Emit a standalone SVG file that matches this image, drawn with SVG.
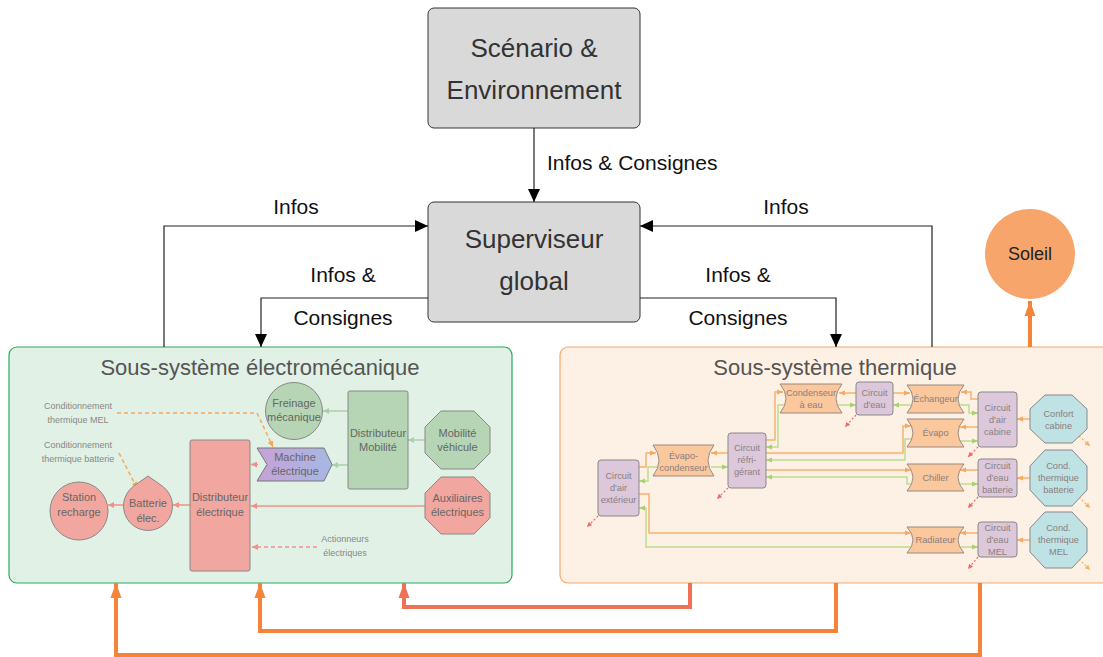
<svg xmlns="http://www.w3.org/2000/svg" width="1103" height="657" viewBox="0 0 1103 657">
<defs>
<style>
text{font-family:"Liberation Sans",Arial,sans-serif;text-anchor:middle}
.top{fill:#d9d9d9;stroke:#333;stroke-width:1}
.tt{font-size:26px;fill:#333}
.lbl{font-size:21px;fill:#111}
.ctl{fill:none;stroke:#222;stroke-width:1.2}
.title{font-size:22px;fill:#555}
.en{font-size:11px;fill:#666}
.tn{font-size:9.2px;fill:#8a7f80}
.note{font-size:9px;fill:#888}
.pink{fill:#f1a7a0;stroke:#888;stroke-width:1}
.grn{fill:#b5d5b5;stroke:#888;stroke-width:1}
.circ{fill:#dcc8da;stroke:#888;stroke-width:1}
.hx{fill:#fbc79c;stroke:#9a8a80;stroke-width:1}
.teal{fill:#bfe2e4;stroke:#888;stroke-width:1}
.pl{fill:none;stroke:#f0908a;stroke-width:1.5}
.gl{fill:none;stroke:#a9d1a9;stroke-width:1.5}
.ol{fill:none;stroke:#f8b26e;stroke-width:1.5}
.ll{fill:none;stroke:#bedc8f;stroke-width:1.5}
.od{fill:none;stroke:#f5a85a;stroke-width:1.5;stroke-dasharray:4 3}
.pd{fill:none;stroke:#f0908a;stroke-width:1.5;stroke-dasharray:4 3}
.rd{fill:none;stroke:#f06a6a;stroke-width:1.2;stroke-dasharray:2 2}
.odt{fill:none;stroke:#f7b060;stroke-width:1.2;stroke-dasharray:2 2}
.big{fill:none;stroke:#f5843a;stroke-width:4}
.bigr{fill:none;stroke:#ef7055;stroke-width:4}
</style>
<linearGradient id="gMach" x1="0" y1="0" x2="1" y2="0">
<stop offset="0" stop-color="#c6a2d6"/><stop offset="1" stop-color="#a6b8e4"/>
</linearGradient>
<marker id="aBlk" markerUnits="userSpaceOnUse" markerWidth="13" markerHeight="12" refX="13" refY="6" orient="auto"><path d="M0,0 L13,6 L0,12 z" fill="#000"/></marker>
<marker id="aBig" markerUnits="userSpaceOnUse" markerWidth="15" markerHeight="12" refX="15" refY="6" orient="auto"><path d="M0,0.5 L15,6 L0,11.5 z" fill="#f5843a"/></marker>
<marker id="aBigR" markerUnits="userSpaceOnUse" markerWidth="15" markerHeight="12" refX="15" refY="6" orient="auto"><path d="M0,0.5 L15,6 L0,11.5 z" fill="#ef7055"/></marker>
<marker id="aP" markerUnits="userSpaceOnUse" markerWidth="6" markerHeight="6" refX="6" refY="3" orient="auto"><path d="M0,0 L6,3 L0,6 z" fill="#f0908a"/></marker>
<marker id="aG" markerUnits="userSpaceOnUse" markerWidth="6" markerHeight="6" refX="6" refY="3" orient="auto"><path d="M0,0 L6,3 L0,6 z" fill="#a9d1a9"/></marker>
<marker id="aO" markerUnits="userSpaceOnUse" markerWidth="6" markerHeight="6" refX="6" refY="3" orient="auto"><path d="M0,0.5 L6,3 L0,5.5 z" fill="#f8a860"/></marker>
<marker id="aL" markerUnits="userSpaceOnUse" markerWidth="6" markerHeight="6" refX="6" refY="3" orient="auto"><path d="M0,0.5 L6,3 L0,5.5 z" fill="#a8d070"/></marker>
<marker id="aOD" markerUnits="userSpaceOnUse" markerWidth="6" markerHeight="6" refX="6" refY="3" orient="auto"><path d="M0,0 L6,3 L0,6 z" fill="#f5a85a"/></marker>
<marker id="aR" markerUnits="userSpaceOnUse" markerWidth="5" markerHeight="5" refX="5" refY="2.5" orient="auto"><path d="M0,0 L5,2.5 L0,5 z" fill="#f06a6a"/></marker>
<marker id="aODt" markerUnits="userSpaceOnUse" markerWidth="5" markerHeight="5" refX="5" refY="2.5" orient="auto"><path d="M0,0 L5,2.5 L0,5 z" fill="#f7b060"/></marker>
</defs>

<!-- subsystem containers -->
<g id="sub-electromeca">
<rect x="9" y="347" width="503" height="236" rx="8" fill="#e1f1e6" stroke="#2aaa60" stroke-width="1.2"/>
<text class="title" x="260" y="375">Sous-système électromécanique</text>
</g>
<g id="sub-thermique">
<rect x="560" y="347" width="560" height="236" rx="8" fill="#fdf0e4" stroke="#f6a86b" stroke-width="1.2"/>
<text class="title" x="835" y="375">Sous-système thermique</text>
</g>

<!-- top nodes -->
<g id="scenario">
<rect class="top" x="428" y="8" width="212" height="120" rx="6"/>
<text class="tt" x="534" y="57">Scénario &amp;</text>
<text class="tt" x="534" y="99">Environnement</text>
</g>
<g id="superviseur">
<rect class="top" x="428" y="202" width="212" height="120" rx="6"/>
<text class="tt" x="534" y="248">Superviseur</text>
<text class="tt" x="534" y="290">global</text>
</g>
<g id="soleil">
<circle cx="1030" cy="254" r="45" fill="#f8a56c"/>
<text x="1030" y="260" font-size="18" fill="#222">Soleil</text>
</g>

<!-- connectors -->
<g id="connectors">
<path class="ctl" d="M534,128 V202" marker-end="url(#aBlk)"/>
<path class="ctl" d="M164,347 V226 H428" marker-end="url(#aBlk)"/>
<path class="ctl" d="M428,298 H261 V347" marker-end="url(#aBlk)"/>
<path class="ctl" d="M932,347 V226 H640" marker-end="url(#aBlk)"/>
<path class="ctl" d="M640,298 H836 V347" marker-end="url(#aBlk)"/>
<text class="lbl" x="547" y="170" style="text-anchor:start">Infos &amp; Consignes</text>
<text class="lbl" x="296" y="214">Infos</text>
<text class="lbl" x="343" y="282">Infos &amp;</text>
<text class="lbl" x="343" y="325">Consignes</text>
<text class="lbl" x="786" y="214">Infos</text>
<text class="lbl" x="738" y="282">Infos &amp;</text>
<text class="lbl" x="738" y="325">Consignes</text>

<path class="big" d="M1030,347 V301" marker-end="url(#aBig)"/>
<path class="bigr" d="M690,583 V607 H404 V583" marker-end="url(#aBigR)"/>
<path class="big" d="M836,583 V631 H260 V583" marker-end="url(#aBig)"/>
<path class="big" d="M980,583 V655 H116 V583" marker-end="url(#aBig)"/>

<!-- electromechanical flows -->
<path class="pl" d="M124,505 H108" marker-end="url(#aP)"/>
<path class="pl" d="M190,505 H173" marker-end="url(#aP)"/>
<path class="pl" d="M258,464.5 H251" marker-end="url(#aP)"/>
<path class="pl" d="M425,506 H251" marker-end="url(#aP)"/>
<path class="pd" d="M317,547 H252" marker-end="url(#aP)"/>
<path class="gl" d="M348,411 H323" marker-end="url(#aG)"/>
<path class="gl" d="M348,465 H332" marker-end="url(#aG)"/>
<path class="gl" d="M425,440 H408" marker-end="url(#aG)"/>
<path class="od" d="M117,413 H257 L273,447" marker-end="url(#aOD)"/>
<path class="od" d="M119,453 L137,488" marker-end="url(#aOD)"/>
<text class="note" x="78" y="409">Conditionnement</text>
<text class="note" x="78" y="423">thermique MEL</text>
<text class="note" x="78" y="448">Conditionnement</text>
<text class="note" x="78" y="462">thermique batterie</text>
<text class="note" x="345" y="542">Actionneurs</text>
<text class="note" x="345" y="556">électriques</text>

<!-- thermal flows -->
<path class="ol" d="M639,467 H646 V453 H656" marker-end="url(#aO)"/>
<path class="ll" d="M657,467 H648 V481 H639" marker-end="url(#aL)"/>
<path class="ol" d="M728,453 H711" marker-end="url(#aO)"/>
<path class="ll" d="M711,467 H728" marker-end="url(#aL)"/>
<path class="ol" d="M766,440 H775 V392 H783" marker-end="url(#aO)"/>
<path class="ll" d="M785,405 H778 V447 H766" marker-end="url(#aL)"/>
<path class="ol" d="M856,393 H839" marker-end="url(#aO)"/>
<path class="ll" d="M838,405 H856" marker-end="url(#aL)"/>
<path class="ol" d="M893,393 H910" marker-end="url(#aO)"/>
<path class="ll" d="M911,405 H893" marker-end="url(#aL)"/>
<path class="ol" d="M978,399 H971 V392 H961" marker-end="url(#aO)"/>
<path class="ll" d="M960,405 H969 V413 H978" marker-end="url(#aL)"/>
<path class="ol" d="M978,427 H960" marker-end="url(#aO)"/>
<path class="ll" d="M960,441 H978" marker-end="url(#aL)"/>
<path class="ol" d="M766,453 H903 V426 H911" marker-end="url(#aO)"/>
<path class="ll" d="M912,439 H905 V460 H766" marker-end="url(#aL)"/>
<path class="ol" d="M766,470 H911" marker-end="url(#aO)"/>
<path class="ll" d="M912,484 H907 V477 H766" marker-end="url(#aL)"/>
<path class="ol" d="M978,470 H960" marker-end="url(#aO)"/>
<path class="ll" d="M960,484 H978" marker-end="url(#aL)"/>
<path class="ol" d="M639,494 H649 V533 H911" marker-end="url(#aO)"/>
<path class="ll" d="M912,547 H646 V508 H639" marker-end="url(#aL)"/>
<path class="ol" d="M978,533 H960" marker-end="url(#aO)"/>
<path class="ll" d="M960,547 H978" marker-end="url(#aL)"/>
<path class="ol" d="M1030,419 H1017" marker-end="url(#aO)"/>
<path class="ol" d="M1030,478 H1017" marker-end="url(#aO)"/>
<path class="ol" d="M1030,540 H1017" marker-end="url(#aO)"/>
<path class="rd" d="M598,516 L587,527" marker-end="url(#aR)"/>
<path class="rd" d="M728,488 L717,499" marker-end="url(#aR)"/>
<path class="rd" d="M856,415 L845,427" marker-end="url(#aR)"/>
<path class="rd" d="M978,447 L968,457" marker-end="url(#aR)"/>
<path class="rd" d="M978,497 L968,508" marker-end="url(#aR)"/>
<path class="rd" d="M978,557 L968,569" marker-end="url(#aR)"/>
<path class="odt" d="M1079,436 L1090,446" marker-end="url(#aODt)"/>
<path class="odt" d="M1079,497 L1090,508" marker-end="url(#aODt)"/>
<path class="odt" d="M1079,559 L1090,570" marker-end="url(#aODt)"/>
</g>

<!-- electromechanical nodes -->
<g id="station-recharge">
<circle class="pink" cx="79" cy="511" r="29"/>
<text class="en" x="79" y="501">Station</text>
<text class="en" x="79" y="516">recharge</text>
</g>
<g id="batterie">
<path class="pink" d="M148,476 L162.2,486 A24.5,24.5 0 1 1 133.8,486 Z"/>
<text class="en" x="148" y="507">Batterie</text>
<text class="en" x="148" y="522">élec.</text>
</g>
<g id="distributeur-electrique">
<rect class="pink" x="190" y="440" width="60" height="131" rx="2"/>
<text class="en" x="220" y="501">Distributeur</text>
<text class="en" x="220" y="516">électrique</text>
</g>
<g id="machine-electrique">
<polygon points="257,448 324,448 332,464.5 324,481 257,481 267,464.5" fill="url(#gMach)" stroke="#777" stroke-width="1"/>
<text class="en" x="295" y="461">Machine</text>
<text class="en" x="295" y="475">électrique</text>
</g>
<g id="freinage">
<circle class="grn" cx="294" cy="411" r="28.5"/>
<text class="en" x="294" y="407">Freinage</text>
<text class="en" x="294" y="421">mécanique</text>
</g>
<g id="distributeur-mobilite">
<rect class="grn" x="348" y="391" width="60" height="98" rx="2"/>
<text class="en" x="378" y="437">Distributeur</text>
<text class="en" x="378" y="451">Mobilité</text>
</g>
<g id="mobilite-vehicule">
<polygon class="grn" points="441,411 474,411 490,427 490,453 474,469 441,469 425,453 425,427"/>
<text class="en" x="457.5" y="437">Mobilité</text>
<text class="en" x="457.5" y="451">véhicule</text>
</g>
<g id="auxiliaires">
<polygon class="pink" points="441,477 474,477 490,493 490,518 474,534 441,534 425,518 425,493"/>
<text class="en" x="457.5" y="502">Auxiliaires</text>
<text class="en" x="457.5" y="516">électriques</text>
</g>

<!-- thermal nodes -->
<g id="circuit-air-ext">
<rect class="circ" x="598" y="460" width="41" height="56" rx="3"/>
<text class="tn" x="618.5" y="479">Circuit</text>
<text class="tn" x="618.5" y="491">d'air</text>
<text class="tn" x="618.5" y="503">extérieur</text>
</g>
<g id="evapo-condenseur">
<path class="hx" d="M653,445 H714 Q702,460.5 714,476 H653 Q665,460.5 653,445 Z"/>
<text class="tn" x="683.5" y="459">Évapo-</text>
<text class="tn" x="683.5" y="471">condenseur</text>
</g>
<g id="circuit-refrigerant">
<rect class="circ" x="728" y="433" width="38" height="55" rx="3"/>
<text class="tn" x="747" y="451">Circuit</text>
<text class="tn" x="747" y="463">réfri-</text>
<text class="tn" x="747" y="475">gérant</text>
</g>
<g id="condenseur-eau">
<path class="hx" d="M780,384 H842 Q830,398.5 842,413 H780 Q792,398.5 780,384 Z"/>
<text class="tn" x="811" y="396">Condenseur</text>
<text class="tn" x="811" y="408">à eau</text>
</g>
<g id="circuit-eau">
<rect class="circ" x="856" y="382" width="37" height="33" rx="3"/>
<text class="tn" x="874.5" y="396">Circuit</text>
<text class="tn" x="874.5" y="408">d'eau</text>
</g>
<g id="echangeur">
<path class="hx" d="M907,385 H964 Q952,399 964,413 H907 Q919,399 907,385 Z"/>
<text class="tn" x="935.5" y="402">Échangeur</text>
</g>
<g id="evapo">
<path class="hx" d="M907,419 H964 Q952,433 964,447 H907 Q919,433 907,419 Z"/>
<text class="tn" x="935.5" y="436">Évapo</text>
</g>
<g id="chiller">
<path class="hx" d="M907,464 H964 Q952,477.5 964,491 H907 Q919,477.5 907,464 Z"/>
<text class="tn" x="935.5" y="481">Chiller</text>
</g>
<g id="radiateur">
<path class="hx" d="M907,527 H964 Q952,540 964,553 H907 Q919,540 907,527 Z"/>
<text class="tn" x="935.5" y="543">Radiateur</text>
</g>
<g id="circuit-air-cabine">
<rect class="circ" x="978" y="392" width="39" height="55" rx="3"/>
<text class="tn" x="997.5" y="411">Circuit</text>
<text class="tn" x="997.5" y="423">d'air</text>
<text class="tn" x="997.5" y="435">cabine</text>
</g>
<g id="circuit-eau-batterie">
<rect class="circ" x="978" y="459" width="39" height="38" rx="3"/>
<text class="tn" x="997.5" y="469">Circuit</text>
<text class="tn" x="997.5" y="481">d'eau</text>
<text class="tn" x="997.5" y="493">batterie</text>
</g>
<g id="circuit-eau-mel">
<rect class="circ" x="978" y="522" width="39" height="35" rx="3"/>
<text class="tn" x="997.5" y="531">Circuit</text>
<text class="tn" x="997.5" y="543">d'eau</text>
<text class="tn" x="997.5" y="555">MEL</text>
</g>
<g id="confort-cabine">
<polygon class="teal" points="1045,395 1072,395 1087,409 1087,429 1072,443 1045,443 1030,429 1030,409"/>
<text class="tn" x="1058.5" y="417">Confort</text>
<text class="tn" x="1058.5" y="429">cabine</text>
</g>
<g id="cond-thermique-batterie">
<polygon class="teal" points="1045,450 1072,450 1087,466 1087,490 1072,506 1045,506 1030,490 1030,466"/>
<text class="tn" x="1058.5" y="469">Cond.</text>
<text class="tn" x="1058.5" y="481">thermique</text>
<text class="tn" x="1058.5" y="493">batterie</text>
</g>
<g id="cond-thermique-mel">
<polygon class="teal" points="1045,512 1072,512 1087,528 1087,552 1072,568 1045,568 1030,552 1030,528"/>
<text class="tn" x="1058.5" y="531">Cond.</text>
<text class="tn" x="1058.5" y="543">thermique</text>
<text class="tn" x="1058.5" y="555">MEL</text>
</g>
</svg>
